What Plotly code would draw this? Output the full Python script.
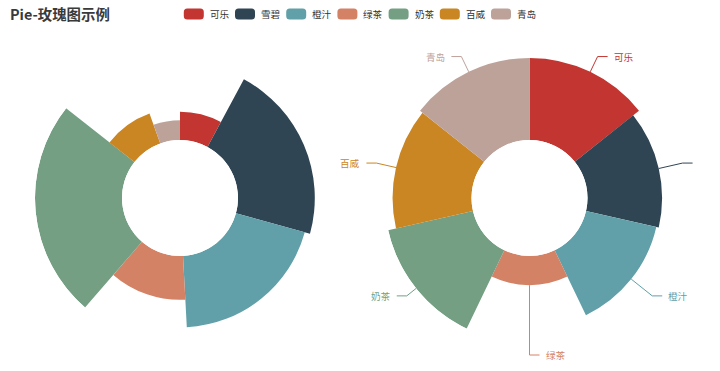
import math
import plotly.graph_objects as go

# ---------------- data ----------------
categories = ["可乐", "雪碧", "橙汁", "绿茶", "奶茶", "百威", "青岛"]
radius_values = [47, 128, 119, 73, 145, 53, 33]      # left rose (roseType: radius)
area_values = [132, 120, 116, 47, 140, 127, 132]     # right rose (roseType: area)
colors = ["#c23531", "#2f4554", "#61a0a8", "#d48265", "#749f83", "#ca8622", "#bda29a"]
title_text = "Pie-玫瑰图示例"

# ---------------- layout constants (pixels) ----------------
W, H = 720, 371
CY = 198
LEFT_CX, RIGHT_CX = 180, 529.5
R_OUT = 145
HOLE = 0.4                      # 30% / 75%
R_IN = R_OUT * HOLE
VIEW_RIGHT = 692                # visible right edge of the reference picture
FONT = "Noto Sans CJK SC, Microsoft YaHei, sans-serif"
LABEL_SIZE = 9.6


def px(x):
    return x / W


def py(y):
    return 1 - y / H


def polar_domain(cx):
    return dict(x=[px(cx - R_OUT), px(cx + R_OUT)], y=[py(CY + R_OUT), py(CY - R_OUT)])


def polar_layout(cx, vmax):
    return dict(
        domain=polar_domain(cx),
        hole=HOLE,
        bgcolor="rgba(0,0,0,0)",
        radialaxis=dict(range=[0, vmax], visible=False),
        angularaxis=dict(rotation=90, direction="clockwise", visible=False),
    )


# left: angle proportional to value
total = sum(radius_values)
left_widths = [v / total * 360 for v in radius_values]
left_theta = []
acc = 0.0
for w in left_widths:
    left_theta.append(acc + w / 2)
    acc += w

# right: equal angles
n = len(area_values)
right_widths = [360 / n] * n
right_theta = [(i + 0.5) * 360 / n for i in range(n)]

fig = go.Figure()
fig.add_trace(go.Barpolar(
    r=radius_values, theta=left_theta, width=left_widths, text=categories,
    marker=dict(color=colors, line=dict(width=0)), subplot="polar",
    showlegend=False, hovertemplate="%{text}: %{r}<extra></extra>",
))
fig.add_trace(go.Barpolar(
    r=area_values, theta=right_theta, width=right_widths, text=categories,
    marker=dict(color=colors, line=dict(width=0)), subplot="polar2",
    showlegend=False, hovertemplate="%{text}: %{r}<extra></extra>",
))

shapes = []
annotations = []

# ---- outside labels with leader lines for the right rose ----
vmax_r = max(area_values)
for cat, v, th, c in zip(categories, area_values, right_theta, colors):
    a = math.radians(th)
    sx, sy = math.sin(a), -math.cos(a)
    r = R_IN + (R_OUT - R_IN) * v / vmax_r
    x0, y0 = RIGHT_CX + r * sx, CY + r * sy
    x1, y1 = RIGHT_CX + (R_OUT + 12) * sx, CY + (R_OUT + 12) * sy
    side = 1 if sx >= -1e-9 else -1
    x2 = x1 + side * 10
    shapes.append(dict(
        type="path", xref="paper", yref="paper",
        path=f"M {px(x0)},{py(y0)} L {px(x1)},{py(y1)} L {px(x2)},{py(y1)}",
        line=dict(color=c, width=1),
    ))
    tx = x2 + side * 4
    if side > 0 and tx + len(cat) * LABEL_SIZE > VIEW_RIGHT:
        continue
    annotations.append(dict(
        x=px(tx), y=py(y1), xref="paper", yref="paper", text=cat, showarrow=False,
        xanchor="left" if side > 0 else "right", yanchor="middle",
        font=dict(size=LABEL_SIZE, color=c, family=FONT),
    ))

# ---- custom legend (rounded-rect icons) ----
ICON_W, ICON_H, ICON_R = 20, 11.2, 3.5
TEXT_GAP, TEXT_W, ITEM_GAP = 4, 2 * LABEL_SIZE, 8
LEG_CX, LEG_CY = 359, 14
item_span = ICON_W + TEXT_GAP + TEXT_W
total_w = n * item_span + (n - 1) * ITEM_GAP
lx = LEG_CX - total_w / 2
for cat, c in zip(categories, colors):
    x, y, w, h, rr = lx, LEG_CY - ICON_H / 2, ICON_W, ICON_H, ICON_R
    pts = [
        ("M", [(x + rr, y)]), ("L", [(x + w - rr, y)]), ("Q", [(x + w, y), (x + w, y + rr)]),
        ("L", [(x + w, y + h - rr)]), ("Q", [(x + w, y + h), (x + w - rr, y + h)]),
        ("L", [(x + rr, y + h)]), ("Q", [(x, y + h), (x, y + h - rr)]),
        ("L", [(x, y + rr)]), ("Q", [(x, y), (x + rr, y)]),
    ]
    path = " ".join(cmd + " " + " ".join(f"{px(a)},{py(b)}" for a, b in p) for cmd, p in pts) + " Z"
    shapes.append(dict(type="path", xref="paper", yref="paper", path=path,
                       fillcolor=c, line=dict(width=0)))
    annotations.append(dict(
        x=px(x + ICON_W + TEXT_GAP), y=py(LEG_CY), xref="paper", yref="paper",
        text=cat, showarrow=False, xanchor="left", yanchor="middle",
        font=dict(size=LABEL_SIZE, color="#333333", family=FONT),
    ))
    lx += item_span + ITEM_GAP

# ---- title ----
annotations.append(dict(
    x=px(8), y=py(13), xref="paper", yref="paper", text=f"<b>{title_text}</b>",
    showarrow=False, xanchor="left", yanchor="middle",
    font=dict(size=14.4, color="#3a3a3a", family=FONT),
))

fig.update_layout(
    width=W, height=H,
    margin=dict(l=0, r=0, t=0, b=0),
    paper_bgcolor="white", plot_bgcolor="white",
    polar=polar_layout(LEFT_CX, max(radius_values)),
    polar2=polar_layout(RIGHT_CX, max(area_values)),
    shapes=shapes, annotations=annotations,
    font=dict(family=FONT),
)

fig.write_html("out.html", config={"displayModeBar": False})

# remove the browser's default body margin so the figure sits at (0, 0)
with open("out.html", encoding="utf-8") as f:
    html = f.read()
html = html.replace("<body>", '<body style="margin:0;padding:0;">', 1)
with open("out.html", "w", encoding="utf-8") as f:
    f.write(html)
